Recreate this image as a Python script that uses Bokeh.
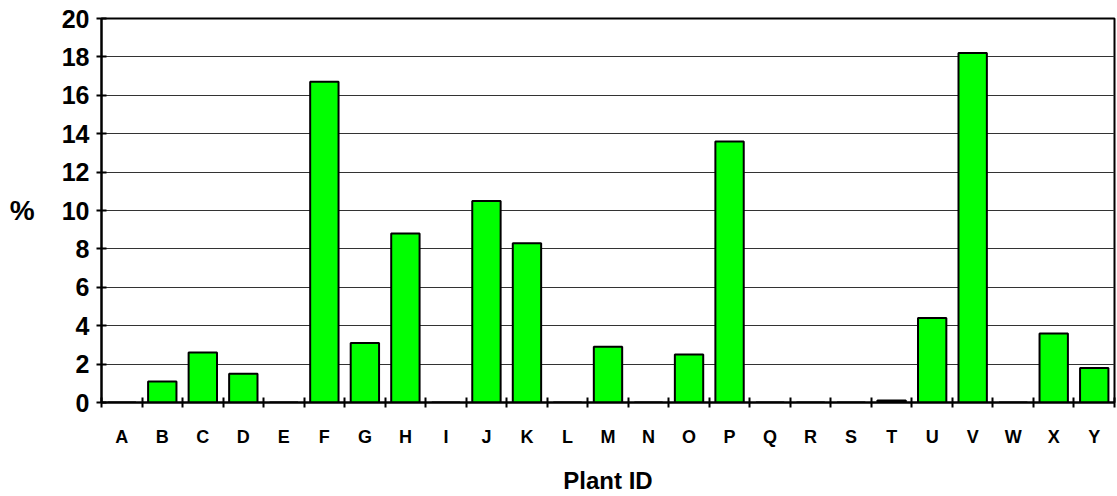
from bokeh.plotting import figure
from bokeh.models import FixedTicker, Range1d, ColumnDataSource
from bokeh.embed import file_html
from bokeh.resources import INLINE

plants = ["A","B","C","D","E","F","G","H","I","J","K","L","M","N","O","P","Q","R","S","T","U","V","W","X","Y"]
values = [0, 1.1, 2.6, 1.5, 0, 16.7, 3.1, 8.8, 0, 10.5, 8.3, 0, 2.9, 0, 2.5, 13.6, 0, 0, 0, 0.1, 4.4, 18.2, 0, 3.6, 1.8]
y_ticks = [0, 2, 4, 6, 8, 10, 12, 14, 16, 18, 20]

n = len(plants)
centers = [i + 0.5 for i in range(n)]
src = ColumnDataSource(dict(x=centers, top=values))

p = figure(width=1117, height=496, output_backend="svg", toolbar_location=None,
           x_range=Range1d(0, n), y_range=Range1d(0, 20),
           min_border_left=101, min_border_right=3, min_border_top=18, min_border_bottom=94)

p.vbar(x="x", top="top", width=0.7, bottom=0, source=src,
       fill_color="#00FF00", line_color="black", line_width=2)

p.outline_line_color = "black"
p.outline_line_width = 2

FONT = "Liberation Sans"

# x axis
p.xaxis.ticker = FixedTicker(ticks=centers, minor_ticks=list(range(n + 1)))
p.xaxis.major_label_overrides = {c: lab for c, lab in zip(centers, plants)}
p.xaxis.major_tick_line_color = None
p.xaxis.major_tick_in = 0
p.xaxis.major_tick_out = 0
p.xaxis.minor_tick_in = 5
p.xaxis.minor_tick_out = 5
p.xaxis.minor_tick_line_width = 2
p.xaxis.minor_tick_line_color = "black"
p.xaxis.axis_line_width = 2
p.xaxis.axis_line_color = "black"
p.xaxis.major_label_text_font = FONT
p.xaxis.major_label_text_font_style = "bold"
p.xaxis.major_label_text_font_size = "18px"
p.xaxis.major_label_text_color = "black"
p.xaxis.major_label_standoff = 19
p.xaxis.axis_label = "Plant ID"
p.xaxis.axis_label_text_font = FONT
p.xaxis.axis_label_text_font_style = "bold"
p.xaxis.axis_label_text_font_size = "24px"
p.xaxis.axis_label_text_color = "black"
p.xaxis.axis_label_standoff = 17

# y axis
p.yaxis.ticker = FixedTicker(ticks=y_ticks)
p.yaxis.minor_tick_line_color = None
p.yaxis.major_tick_in = 5
p.yaxis.major_tick_out = 5
p.yaxis.major_tick_line_width = 2
p.yaxis.major_tick_line_color = "black"
p.yaxis.axis_line_width = 2
p.yaxis.axis_line_color = "black"
p.yaxis.major_label_text_font = FONT
p.yaxis.major_label_text_font_style = "bold"
p.yaxis.major_label_text_font_size = "25px"
p.yaxis.major_label_text_color = "black"
p.yaxis.major_label_standoff = 7
p.yaxis.axis_label = "%"
p.yaxis.axis_label_orientation = "horizontal"
p.yaxis.axis_label_text_font = FONT
p.yaxis.axis_label_text_font_style = "bold"
p.yaxis.axis_label_text_font_size = "28px"
p.yaxis.axis_label_text_color = "black"
p.yaxis.axis_label_standoff = 24

p.xgrid.grid_line_color = None
p.ygrid.grid_line_color = "#333333"
p.ygrid.grid_line_width = 1

open("out.html", "w").write(file_html(p, INLINE))
